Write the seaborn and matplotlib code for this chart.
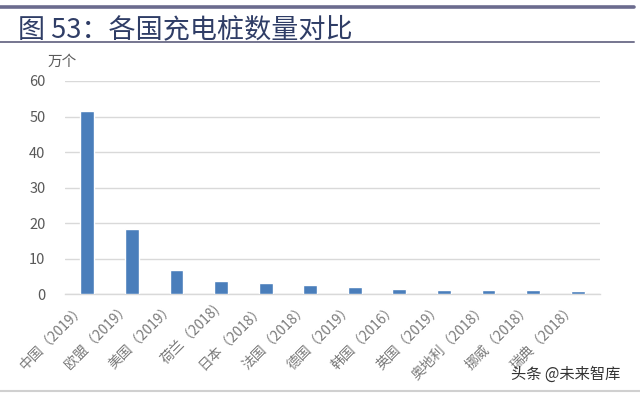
import matplotlib
matplotlib.use("Agg")
import matplotlib.pyplot as plt
import matplotlib.transforms as mtransforms
import seaborn as sns
import pandas as pd
from matplotlib.lines import Line2D

# Charging piles by country (unit: 10k), year of statistic in brackets
categories = ["中国（2019）", "欧盟（2019）", "美国（2019）", "荷兰（2018)", "日本（2018）",
              "法国（2018）", "德国（2019）", "韩国（2016）", "英国（2019）", "奥地利（2018）",
              "挪威（2018）", "瑞典（2018）"]
piles = [51.5, 18.5, 6.7, 3.7, 3.1, 2.5, 2.0, 1.4, 1.3, 1.1, 1.1, 0.95]
yticks = [0, 10, 20, 30, 40, 50, 60]

df = pd.DataFrame({"country": categories, "piles": piles})

sns.set_theme(style="white")
plt.rcParams["font.family"] = ["Noto Sans CJK SC", "DejaVu Sans"]

fig = plt.figure(figsize=(6.4, 3.94), dpi=100)
fig.patch.set_facecolor("white")
ax = fig.add_axes([65 / 640, 1 - 294.3 / 394, 535 / 640, (294.3 - 81) / 394])

sns.barplot(data=df, x="country", y="piles", color="#4A7EBB", saturation=1,
            width=0.31, ax=ax, zorder=3)

ax.set_ylim(0, 60)
ax.set_xlim(-0.5, len(categories) - 0.5)
ax.set_yticks(yticks)
ax.yaxis.grid(True, color="#D9D9D9", linewidth=1, zorder=0)
ax.set_axisbelow(True)
for side in ["top", "right", "left"]:
    ax.spines[side].set_visible(False)
ax.spines["bottom"].set_color("#D9D9D9")
ax.spines["bottom"].set_linewidth(1)
ax.set_xlabel("")
ax.set_ylabel("")
ax.tick_params(axis="y", length=0, pad=14, labelsize=10.5, labelcolor="#595959")
ax.tick_params(axis="x", length=0, pad=5, labelsize=10, labelcolor="#7A7A7A")
ax.set_xticks(range(len(categories)))
ax.set_xticklabels(categories, rotation=45, ha="right", rotation_mode="anchor")
# nudge the rotated labels so their upper ends sit just left of each bar
offset = mtransforms.ScaledTranslation(-9 / 100, 0, fig.dpi_scale_trans)
for lbl in ax.get_xticklabels():
    lbl.set_transform(lbl.get_transform() + offset)

# unit label above the y axis
fig.text(62 / 640, 1 - 62 / 394, "万个", ha="center", va="center",
         fontsize=10.5, color="#595959")

# header rules and title
fig.add_artist(Line2D([0, 634 / 640], [1 - 6.5 / 394] * 2, color="#6B6B8E",
                      linewidth=2.6, transform=fig.transFigure))
fig.add_artist(Line2D([0, 634 / 640], [1 - 42 / 394] * 2, color="#75758F",
                      linewidth=1.4, transform=fig.transFigure))
fig.text(18 / 640, 1 - 30 / 394, "图 53：各国充电桩数量对比", ha="left", va="center",
         fontsize=19.5, color="#2F3D66", fontweight="light")

# bottom rule and watermark
fig.add_artist(Line2D([0, 1], [1 - 391 / 394] * 2, color="#D0D0D0",
                      linewidth=1.5, transform=fig.transFigure))
fig.text(566 / 640, 1 - 374 / 394, "头条 @未来智库", ha="center", va="center",
         fontsize=11, color="#333333")

fig.savefig("out.png", dpi=100, facecolor="white")
